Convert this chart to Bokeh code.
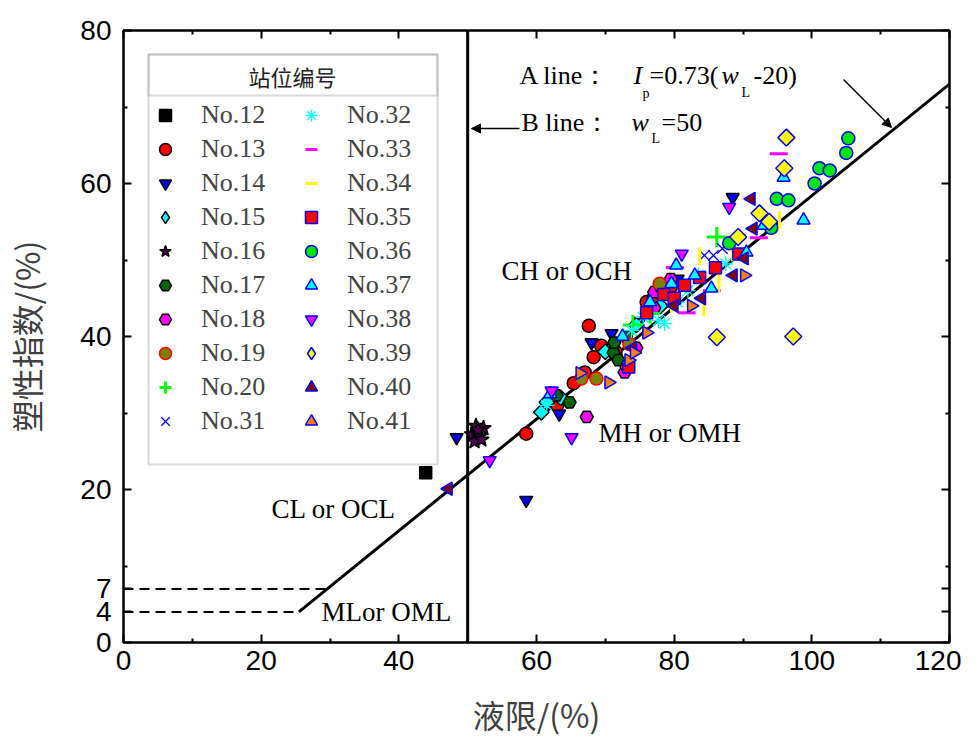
import math
from bokeh.plotting import figure
from bokeh.models import (Range1d, FixedTicker, LinearAxis, Legend, LegendItem, Span, Label,
                          BoxAnnotation, Arrow, NormalHead, CustomJSTickFormatter)
from bokeh.embed import file_html
from bokeh.resources import INLINE

# ---------------- data ----------------
x_ticks = [0, 20, 40, 60, 80, 100, 120]
x_minor = [10, 30, 50, 70, 90, 110]
y_ticks = [0, 4, 7, 20, 40, 60, 80]
y_minor = [10, 30, 50, 70]

a_slope = 0.73
a_offset = 20
b_line_wl = 50
dash_levels = [7, 4]

names = ["No.12", "No.13", "No.14", "No.15", "No.16", "No.17", "No.18", "No.19", "No.20", "No.31",
         "No.32", "No.33", "No.34", "No.35", "No.36", "No.37", "No.38", "No.39", "No.40", "No.41"]

x12 = [43.9]
y12 = [22.2]
x13 = [58.5, 63.0, 65.4, 67.0, 67.6, 68.3, 69.4, 71.5, 76.0, 77.0, 78.5, 79.5]
y13 = [27.3, 31.0, 33.9, 35.3, 41.4, 37.3, 38.8, 38.0, 44.5, 45.0, 46.0, 46.5]
x14 = [48.4, 58.5, 63.3, 68.0, 70.9, 75.0, 80.5, 88.5]
y14 = [26.8, 18.6, 29.9, 39.2, 40.4, 42.0, 47.5, 58.2]
x15 = [60.7, 61.5, 63.5, 70.0, 74.5, 78.0]
y15 = [30.1, 31.4, 32.0, 38.0, 41.5, 44.0]
x16 = [50.6, 51.2, 51.8, 52.3, 51.0, 52.0, 51.5]
y16 = [27.2, 28.3, 27.0, 28.0, 26.3, 26.5, 27.8]
x17 = [62.9, 64.8, 71.2, 71.3, 71.9, 73.0]
y17 = [32.3, 31.4, 37.9, 39.2, 36.9, 40.0]
x18 = [67.3, 72.8, 73.1, 74.5, 77.1, 77.1, 78.0, 79.5]
y18 = [29.5, 35.3, 36.0, 38.5, 45.8, 43.7, 46.5, 47.5]
x19 = [66.5, 68.7, 73.5, 77.9]
y19 = [34.5, 34.5, 39.0, 46.9]
x20 = [86.2, 74.0, 76.5]
y20 = [53.0, 41.5, 43.0]
x31 = [84.4, 85.7, 87.0]
y31 = [50.6, 50.6, 51.5]
x32 = [61.5, 73.8, 75.5, 77.7, 78.6, 80.5, 82.0, 83.5, 87.5]
y32 = [31.0, 40.8, 42.5, 42.1, 41.7, 44.5, 46.0, 48.0, 49.5]
x33 = [80.1, 81.8, 85.5, 92.3, 95.2]
y33 = [49.0, 43.1, 46.0, 52.9, 63.9]
x34 = [79.6, 83.7, 84.3, 86.5, 88.5, 95.3]
y34 = [44.3, 50.5, 43.8, 47.0, 51.0, 55.2]
x35 = [73.4, 76.0, 78.5, 80.0, 81.5, 83.7, 86.0, 89.4]
y35 = [36.0, 43.1, 45.5, 45.0, 46.7, 47.7, 49.0, 50.8]
x36 = [88.0, 94.1, 94.9, 96.6, 100.4, 101.1, 102.6, 105.0, 105.3]
y36 = [52.2, 54.2, 58.0, 57.8, 60.0, 62.0, 61.7, 64.0, 65.9]
x37 = [62.0, 72.5, 76.5, 79.6, 80.3, 83.0, 85.4, 90.5, 93.0, 95.9, 98.8]
y37 = [32.5, 40.0, 44.5, 46.9, 49.3, 48.0, 46.3, 51.0, 54.5, 60.8, 55.2]
x38 = [53.2, 62.2, 65.1, 81.1, 88.0]
y38 = [23.8, 32.9, 26.8, 50.8, 56.9]
x39 = [86.2, 89.3, 92.4, 93.8, 96.0, 96.3, 97.3]
y39 = [39.9, 53.0, 56.1, 55.0, 62.0, 66.0, 40.0]
x40 = [47.2, 74.0, 80.0, 84.0, 88.6, 90.2, 91.5, 91.2]
y40 = [20.1, 38.5, 44.0, 45.0, 48.0, 50.2, 54.1, 58.0]
x41 = [66.3, 70.5, 73.4, 74.2, 76.0, 82.5, 90.2]
y41 = [35.2, 34.0, 36.9, 37.9, 40.5, 44.0, 48.0]

xs = [x12, x13, x14, x15, x16, x17, x18, x19, x20, x31, x32, x33, x34, x35, x36, x37, x38, x39, x40, x41]
ys = [y12, y13, y14, y15, y16, y17, y18, y19, y20, y31, y32, y33, y34, y35, y36, y37, y38, y39, y40, y41]

# ---------------- styles ----------------
styles = [
    dict(marker="square", fill_color="black", line_color="black", size=12),
    dict(marker="circle", fill_color="red", line_color="black"),
    dict(marker="inverted_triangle", fill_color="blue", line_color="black"),
    dict(marker="square", fill_color="cyan", line_color="black", size=11, angle=math.pi / 4, legend_marker="diamond"),
    dict(marker="star", fill_color="#4d0050", line_color="black", size=16),
    dict(marker="hex", fill_color="#006400", line_color="black"),
    dict(marker="hex", fill_color="magenta", line_color="black"),
    dict(marker="circle", fill_color="#808000", line_color="red"),
    dict(marker="cross", fill_color="#00ff00", line_color="#00ff00", size=20, line_width=3),
    dict(marker="x", fill_color="blue", line_color="blue", size=15, line_width=1.3),
    dict(marker="asterisk", fill_color="cyan", line_color="cyan", size=15, line_width=1.3),
    dict(marker="dash", fill_color="#ff00ff", line_color="#ff00ff", size=18, line_width=3),
    dict(marker="dash", fill_color="yellow", line_color="yellow", size=18, line_width=3, angle=math.pi / 2),
    dict(marker="square", fill_color="red", line_color="blue", size=12),
    dict(marker="circle", fill_color="#00e600", line_color="blue"),
    dict(marker="triangle", fill_color="cyan", line_color="blue"),
    dict(marker="inverted_triangle", fill_color="magenta", line_color="blue"),
    dict(marker="square", fill_color="yellow", line_color="blue", size=12, angle=math.pi / 4, legend_marker="diamond"),
    dict(marker="triangle", fill_color="#800000", line_color="blue", angle=math.pi / 2),
    dict(marker="triangle", fill_color="#ff8000", line_color="blue", angle=-math.pi / 2),
]

W_FRAME, H_FRAME = 826, 612
p = figure(frame_width=W_FRAME, frame_height=H_FRAME,
           min_border_left=122, min_border_right=12, min_border_top=30, min_border_bottom=80,
           x_range=Range1d(0, 120), y_range=Range1d(0, 80),
           output_backend="svg", toolbar_location=None,
           x_axis_label="液限/(%)", y_axis_label="塑性指数/(%)")
p.grid.visible = False
p.outline_line_color = "black"
p.outline_line_width = 2
p.background_fill_color = "white"
p.border_fill_color = "white"

def style_axis(ax, ticks, minor):
    ax.ticker = FixedTicker(ticks=ticks, minor_ticks=minor)
    ax.axis_line_width = 2
    ax.axis_line_color = "black"
    ax.major_tick_in = 8
    ax.major_tick_out = 0
    ax.minor_tick_in = 4
    ax.minor_tick_out = 0
    ax.major_tick_line_width = 2
    ax.minor_tick_line_width = 2
    ax.major_label_text_font = "Liberation Sans"
    ax.major_label_text_font_size = "28px"
    ax.major_label_text_color = "black"
    ax.axis_label_text_font = "Noto Sans CJK SC"
    ax.axis_label_text_font_size = "32px"
    ax.axis_label_text_font_style = "normal"
    ax.axis_label_text_color = "#404040"

style_axis(p.xaxis[0], x_ticks, x_minor)
style_axis(p.yaxis[0], y_ticks, y_minor)
p.xaxis[0].major_label_standoff = 8
p.yaxis[0].major_label_standoff = 12
p.xaxis[0].axis_label_standoff = 18
p.yaxis[0].axis_label_standoff = 28

for loc, ticks, minor in (("above", x_ticks, x_minor), ("right", y_ticks, y_minor)):
    ax = LinearAxis()
    style_axis(ax, ticks, minor)
    ax.formatter = CustomJSTickFormatter(code="return ''")
    ax.major_label_standoff = 0
    p.add_layout(ax, loc)

# reference lines
a_x0 = 4 / a_slope + a_offset
a_xs = [a_x0, 120]
p.line(a_xs, [a_slope * (x - a_offset) for x in a_xs], line_color="black", line_width=3)
p.add_layout(Span(location=b_line_wl, dimension="height", line_color="black", line_width=3))
for lev in dash_levels:
    p.line([0, lev / a_slope + a_offset], [lev, lev], line_color="black", line_width=2, line_dash="10 6")

# scatter series
items = []
for name, xx, yy, st in zip(names, xs, ys, styles):
    st = dict(st)
    legend_marker = st.pop("legend_marker", None)
    marker = st.pop("marker")
    size = st.pop("size", 13)
    lw = st.pop("line_width", 1.5)
    r = p.scatter(xx, yy, marker=marker, size=size, line_width=lw, angle=st.pop("angle", 0), **st)
    lr = r
    if legend_marker is not None:
        # hidden twin of the same series, used only to draw a proper diamond in the legend
        lr = p.scatter(xx, yy, marker=legend_marker, size=size, line_width=lw, visible=False, **st)
    items.append(LegendItem(label=name, renderers=[lr]))

# legend frame, title and separator
def dx(px):
    return (px - 122) * 120 / W_FRAME
def dy(py):
    return (642 - py) * 80 / H_FRAME

p.add_layout(BoxAnnotation(left=dx(147), right=dx(436), top=dy(54), bottom=dy(464),
                           fill_color="white", fill_alpha=1, line_color="#808080", line_width=2))
p.add_layout(BoxAnnotation(left=dx(147), right=dx(436), top=dy(54), bottom=dy(95),
                           fill_alpha=0, line_color="#808080", line_width=2))
p.add_layout(Label(x=dx(291), y=dy(75), text="站位编号", text_font="Noto Sans CJK SC",
                   text_font_size="22px", text_align="center", text_baseline="middle",
                   text_color="#222222"))

legend = Legend(items=items, location=(27, 206), orientation="vertical", ncols=2,
                padding=0, margin=0, spacing=4, glyph_width=30, glyph_height=30,
                label_height=30, label_width=91, label_standoff=21,
                label_text_font="Liberation Serif", label_text_font_size="26px",
                border_line_color=None, background_fill_alpha=0, inactive_fill_alpha=0)
p.add_layout(legend)

# text annotations
serif = "Liberation Serif"
def txt(x, y, t, size="26px", style="normal"):
    p.add_layout(Label(x=x, y=y, text=t, text_font=serif, text_font_size=size,
                       text_font_style=style, text_baseline="middle", text_color="black"))

txt(dx(518), dy(75), "A line：")
txt(dx(632), dy(75), "I", style="italic")
txt(dx(641), dy(93), "p", size="14px")
txt(dx(648), dy(75), "=0.73(")
txt(dx(720), dy(75), "w", style="italic")
txt(dx(740), dy(92), "L", size="14px")
txt(dx(752), dy(75), "-20)")

txt(dx(520), dy(122), "B line：")
txt(dx(630), dy(122), "w", style="italic")
txt(dx(650), dy(138), "L", size="14px")
txt(dx(660), dy(122), "=50")

txt(dx(500), dy(270), "CH or OCH", size="27px")
txt(dx(597), dy(432), "MH or OMH", size="27px")
txt(dx(270), dy(508), "CL or OCL", size="27px")
txt(dx(320), dy(611), "MLor OML", size="27px")

p.add_layout(Arrow(end=NormalHead(size=9, fill_color="black", line_color="black"),
                   x_start=dx(842), y_start=dy(79), x_end=dx(890), y_end=dy(127),
                   line_color="black", line_width=1.5))
p.add_layout(Arrow(end=NormalHead(size=9, fill_color="black", line_color="black"),
                   x_start=dx(518), y_start=dy(128), x_end=dx(470), y_end=dy(128),
                   line_color="black", line_width=1.5))

open("out.html", "w").write(file_html(p, INLINE))
